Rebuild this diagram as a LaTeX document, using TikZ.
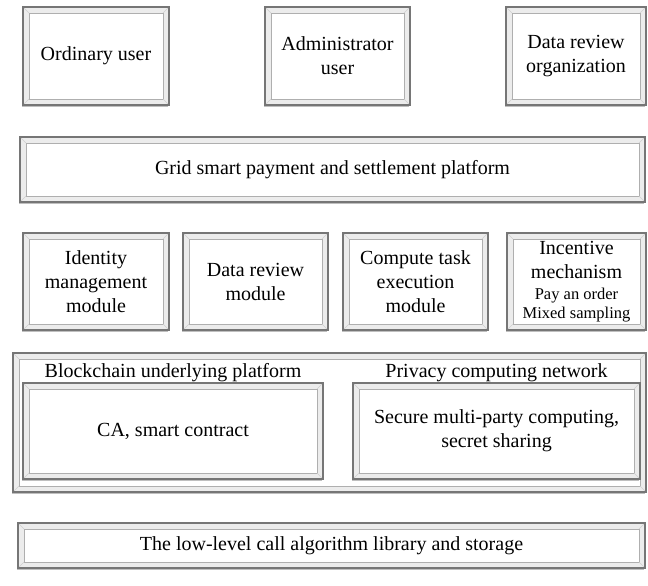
\documentclass[tikz,border=0pt]{standalone}
\usepackage{fontspec}
\setmainfont{Liberation Serif}
\usetikzlibrary{positioning,shadows}
\definecolor{frame}{RGB}{118,118,118}
\definecolor{bevel}{RGB}{236,236,236}
\definecolor{bevelline}{RGB}{175,175,175}
\newcommand{\mainsz}{\fontsize{20}{24}\selectfont}
\newcommand{\smallsz}{\fontsize{16.5}{20}\selectfont}
\newcommand{\bevelring}{%
  \fill[bevel] (path picture bounding box.south west) rectangle (path picture bounding box.north east);
  \fill[white] ([shift={(6pt,6pt)}]path picture bounding box.south west) rectangle ([shift={(-6pt,-6pt)}]path picture bounding box.north east);
  \draw[bevelline, line width=0.6pt] ([shift={(6pt,6pt)}]path picture bounding box.south west) rectangle ([shift={(-6pt,-6pt)}]path picture bounding box.north east);
  \draw[bevelline!60, line width=0.4pt]
    (path picture bounding box.south west) -- ++(6pt,6pt)
    (path picture bounding box.north west) -- ++(6pt,-6pt)
    (path picture bounding box.north east) -- ++(-6pt,-6pt)
    (path picture bounding box.south east) -- ++(-6pt,6pt);
}
\tikzset{
  panel/.style={draw=frame, line width=1.4pt, fill=white, inner sep=2pt, outer sep=0pt,
                anchor=north west, align=center, font=\mainsz,
                drop shadow={shadow xshift=-1.2pt, shadow yshift=-1.5pt, fill=black, opacity=0.25},
                path picture={\bevelring}},
  layerlbl/.style={font=\mainsz, inner sep=2pt}
}
\begin{document}
\begin{tikzpicture}[x=1pt, y=-1pt]
\useasboundingbox (0,0) rectangle (648,586);
% users
\node[panel, minimum width=146pt, minimum height=98pt] (ord) at (23,7) {Ordinary user};
\node[panel, minimum width=145pt, minimum height=98pt] (adm) at (265,7) {Administrator\\user};
\node[panel, minimum width=140pt, minimum height=98pt] (dro) at (506,7) {Data review\\organization};
% platform
\node[panel, minimum width=625pt, minimum height=65pt] (grid) at (20,137) {Grid smart payment and settlement platform};
% modules
\node[panel, minimum width=146pt, minimum height=97pt] (idm) at (23,233) {Identity\\management\\module};
\node[panel, minimum width=145pt, minimum height=97pt] (drm) at (183,233) {Data review\\module};
\node[panel, minimum width=145pt, minimum height=97pt] (ctm) at (343,233) {Compute task\\execution\\module};
\node[panel, minimum width=139pt, minimum height=97pt] (inc) at (507,233) {Incentive\\[0pt]mechanism\\[-3pt]\smallsz Pay an order\\[-5pt]\smallsz Mixed sampling};
% underlying layer
\node[panel, minimum width=633pt, minimum height=139pt] (chain) at (13,353) {};
\node[panel, minimum width=300pt, minimum height=96pt] (ca) at (23,383) {CA, smart contract};
\node[panel, minimum width=287pt, minimum height=96pt] (mpc) at (353,383) {Secure multi-party computing,\\secret sharing};
\node[layerlbl, above=-1pt of ca] (calbl) {Blockchain underlying platform};
\node[layerlbl, above=-1pt of mpc] (mpclbl) {Privacy computing network};
% storage
\node[panel, minimum width=627pt, minimum height=45pt] (low) at (18,523) {The low-level call algorithm library and storage};
\end{tikzpicture}
\end{document}
